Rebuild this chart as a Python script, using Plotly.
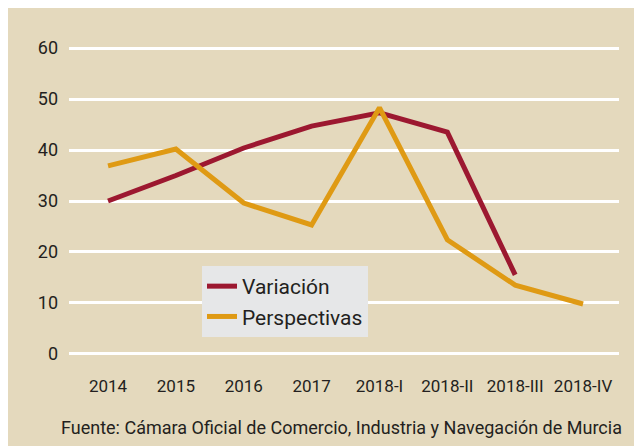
import plotly.graph_objects as go

categories = ["2014", "2015", "2016", "2017", "2018-I", "2018-II", "2018-III", "2018-IV"]
variacion = [30, 35, 40.4, 44.7, 47.3, 43.5, 15.5, None]
perspectivas = [36.9, 40.2, 29.6, 25.3, 48.3, 22.4, 13.5, 9.8]
y_ticks = [0, 10, 20, 30, 40, 50, 60]

BEIGE = "#e4d9bd"
RED = "#9c1830"
ORANGE = "#df9a14"
TXT = "#231f20"
FONT = "Roboto"

fig = go.Figure()
fig.add_trace(go.Scatter(x=categories, y=variacion, mode="lines", name="Variación",
                         line=dict(color=RED, width=5), connectgaps=False))
fig.add_trace(go.Scatter(x=categories, y=perspectivas, mode="lines", name="Perspectivas",
                         line=dict(color=ORANGE, width=5)))

# page body has an 8px margin, so the figure sits at (8, 8)
OFF = 8
W, H = 642 - OFF, 446 - OFF
L, R, T, B = 69 - OFF, 23, 45 - OFF, 89
PW, PH = W - L - R, H - T - B


def px(xp):
    return (xp - OFF - L) / PW


def py(yp):
    return (H - B - (yp - OFF)) / PH


fig.update_layout(
    width=W, height=H,
    margin=dict(l=L, r=R, t=T, b=B, pad=0),
    paper_bgcolor=BEIGE, plot_bgcolor=BEIGE,
    font=dict(family=FONT, color=TXT),
    showlegend=True,
    legend=dict(x=px(202), y=py(266),
                xanchor="left", yanchor="top",
                bgcolor="#e6e7e8", font=dict(size=21, color=TXT, family=FONT),
                tracegroupgap=0, itemwidth=30, borderwidth=0),
    xaxis=dict(type="category", range=[-0.575, 7.53], showgrid=False, zeroline=False,
               showline=False, ticks="", tickfont=dict(size=17, color=TXT, family=FONT),
               ticklabelstandoff=17),
    yaxis=dict(range=[-0.6, 60.6], tickvals=y_ticks, showgrid=True, gridcolor="white", gridwidth=2.5,
               zeroline=False, showline=False, ticks="",
               tickfont=dict(size=18, color=TXT, family=FONT), ticklabelstandoff=10),
    annotations=[
        dict(text="Fuente: Cámara Oficial de Comercio, Industria y Navegación de Murcia",
             xref="paper", yref="paper", x=px(60), y=py(427),
             xanchor="left", yanchor="middle", showarrow=False, borderpad=0,
             font=dict(size=18, color=TXT, family=FONT)),
    ],
)

fig.write_html("out.html")
